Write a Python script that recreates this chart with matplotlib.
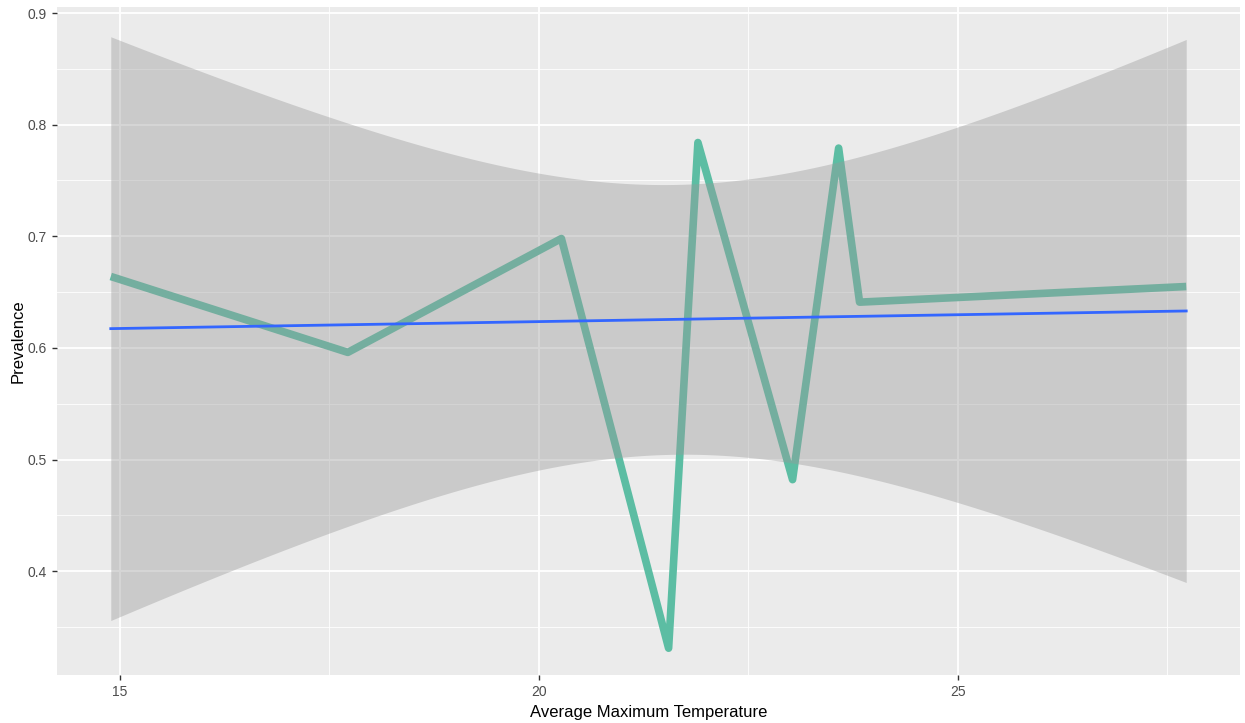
import matplotlib
matplotlib.use("Agg")
import matplotlib.pyplot as plt
import numpy as np

# values
max_temp = [14.89, 17.72, 20.27, 21.55, 21.90, 23.03, 23.58, 23.83, 27.73]
prevalence = [0.664, 0.596, 0.698, 0.331, 0.784, 0.482, 0.779, 0.641, 0.655]

x_ticks = [15, 20, 25]
y_ticks = [0.4, 0.5, 0.6, 0.7, 0.8, 0.9]

plt.rcParams['font.family'] = ['Liberation Sans', 'DejaVu Sans']

x = np.array(max_temp)
y = np.array(prevalence)

# linear smooth with 95% band, like geom_smooth(method = "lm")
slope, intercept = np.polyfit(x, y, 1)
n = len(x)
resid = y - (slope * x + intercept)
s = np.sqrt(np.sum(resid ** 2) / (n - 2))
sxx = np.sum((x - x.mean()) ** 2)
t_crit = 2.3646  # t quantile 0.975, df = 7
xs = np.linspace(x.min(), x.max(), 200)
fit = slope * xs + intercept
half = t_crit * s * np.sqrt(1.0 / n + (xs - x.mean()) ** 2 / sxx)

fig = plt.figure(figsize=(12.45, 7.23), dpi=100)
ax = fig.add_axes([57 / 1245, 1 - 675 / 723, (1240 - 57) / 1245, (675 - 7) / 723])
ax.set_facecolor('#ebebeb')

ax.plot(x, y, color='#5cbda3', linewidth=5.5, solid_joinstyle='round',
        solid_capstyle='butt', zorder=3)
ax.fill_between(xs, fit - half, fit + half, color='#999999', alpha=0.4, linewidth=0, zorder=4)
ax.plot(xs, fit, color='#3366ff', linewidth=2, zorder=5)

span = x.max() - x.min()
ax.set_xlim(x.min() - 0.05 * span, x.max() + 0.05 * span)
ax.set_ylim(0.307, 0.9054)

ax.set_xticks(x_ticks)
ax.set_xticklabels([str(v) for v in x_ticks])
ax.set_yticks(y_ticks)
ax.set_yticklabels([f"{v:.1f}" for v in y_ticks])
ax.set_xticks([17.5, 22.5, 27.5], minor=True)
ax.set_yticks([0.35, 0.45, 0.55, 0.65, 0.75, 0.85], minor=True)

ax.grid(which='major', color='white', linewidth=1.3, zorder=0)
ax.grid(which='minor', color='white', linewidth=0.6, zorder=0)
ax.set_axisbelow(True)
for sp in ax.spines.values():
    sp.set_visible(False)

ax.tick_params(which='major', length=3.5, width=1, color='#333333',
               labelcolor='#4d4d4d', labelsize=10, pad=4)
ax.tick_params(which='minor', length=0)

ax.set_xlabel('Average Maximum Temperature', fontsize=12, color='black', labelpad=4)
ax.set_ylabel('Prevalence', fontsize=12, color='black', labelpad=1)

fig.savefig('out.png', dpi=100)
